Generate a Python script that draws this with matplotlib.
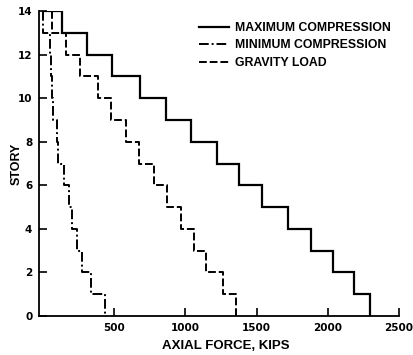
import matplotlib
matplotlib.use("Agg")
import matplotlib.pyplot as plt
import numpy as np

# Story intervals from top (14->13) down to (1->0)
stories = list(range(14, -1, -1))  # 14 ... 0
max_comp = [135, 310, 486, 682, 865, 1040, 1223, 1377, 1539, 1721, 1882, 2037, 2184, 2296]
min_comp = [2, 51, 58, 65, 72, 100, 107, 147, 184, 205, 240, 276, 339, 437]
gravity = [65, 163, 261, 386, 479, 584, 676, 781, 872, 970, 1061, 1146, 1265, 1356]

x_ticks = [500, 1000, 1500, 2000, 2500]
y_ticks = [0, 2, 4, 6, 8, 10, 12, 14]

plt.rcParams['font.family'] = ['Liberation Sans', 'DejaVu Sans']
plt.rcParams['font.weight'] = 'bold'

W, H = 414, 355
fig = plt.figure(figsize=(W/100, H/100), dpi=100)
ax = fig.add_axes([39.2/W, 1-316/H, (399-39.2)/W, 305/H])


def step_xy(vals, roof=False):
    xs, ys = [], []
    if roof:
        xs.append(0); ys.append(stories[0])
    for i, v in enumerate(vals):
        xs += [v, v]
        ys += [stories[i], stories[i+1]]
    return xs, ys

xm, ym = step_xy(max_comp, roof=True)
xn, yn = step_xy(min_comp)
xg, yg = step_xy(gravity)

ax.plot(xm, ym, color='black', lw=1.6, solid_joinstyle='miter', label='MAXIMUM COMPRESSION')
ax.plot(xn, yn, color='black', lw=1.4, dashes=(5, 1.5, 1, 1.5), label='MINIMUM COMPRESSION')
ax.plot(xg, yg, color='black', lw=1.4, dashes=(4, 1.5), label='GRAVITY LOAD')

ax.set_xlim(-25, 2500)
ax.set_ylim(0, 14)
ax.set_xticks(x_ticks)
ax.set_yticks(y_ticks)
ax.spines['top'].set_visible(False)
ax.spines['right'].set_visible(False)
ax.spines['left'].set_linewidth(1.3)
ax.spines['bottom'].set_linewidth(1.3)
ax.tick_params(direction='in', length=6, width=1.2, labelsize=8, pad=5)
for lab in ax.get_xticklabels() + ax.get_yticklabels():
    lab.set_fontweight('bold')
    lab.set_family(['DejaVu Sans'])
    lab.set_fontsize(7.5)

fig.text(226/W, 1-346/H, 'AXIAL FORCE, KIPS', fontsize=9.5, fontweight='bold',
         ha='center', va='center')
fig.text(17/W, 1-164/H, 'STORY', fontsize=9, fontweight='bold',
         ha='center', va='center', rotation=90)

leg = ax.legend(loc='upper left', bbox_to_anchor=(0.43, 0.98), frameon=False,
                prop={'size': 8.8, 'weight': 'bold'}, handlelength=2.5,
                handletextpad=0.5, labelspacing=0.45, borderaxespad=0)

fig.savefig('out.png', dpi=100)
